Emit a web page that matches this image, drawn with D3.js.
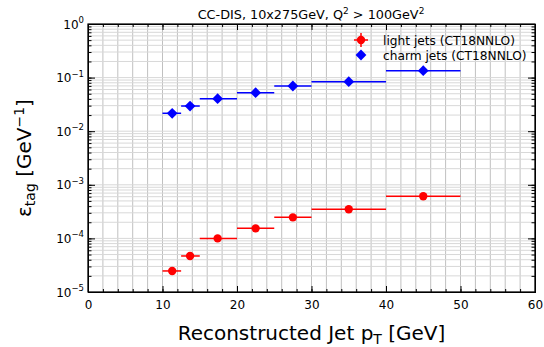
<!DOCTYPE html>
<html><head><meta charset="utf-8">
<script src="https://cdn.jsdelivr.net/npm/d3@7"></script>
<style>body{margin:0;background:#fff}svg{font-family:"DejaVu Sans",sans-serif}</style>
</head><body>
<svg id="c" width="544" height="347"></svg>
<script>
const binLo = [10, 12.5, 15, 20, 25, 30, 40];
const binHi = [12.5, 15, 20, 25, 30, 40, 50];
const xCenter = [11.3, 13.7, 17.4, 22.5, 27.5, 35.0, 45.0];
const lightEff = [2.47e-5, 4.7e-5, 1.0e-4, 1.54e-4, 2.47e-4, 3.5e-4, 6.1e-4];
const charmEff = [0.0216, 0.0295, 0.0404, 0.0524, 0.0697, 0.0839, 0.1346];
const xTicks = [0, 10, 20, 30, 40, 50, 60];
const yTicks = [1e-5, 1e-4, 1e-3, 1e-2, 1e-1, 1];
const seriesNames = ["light jets (CT18NNLO)", "charm jets (CT18NNLO)"];
const seriesColors = ["#ff0000", "#0000ff"];

const svg = d3.select("#c");
const L = 88, R = 535, T = 24, B = 292;
const x = d3.scaleLinear().domain([0, 60]).range([L, R]);
const y = d3.scaleLog().domain([1e-5, 1]).range([B, T]);

// grid
const g = svg.append("g");
const xMinor = d3.range(0, 61, 2);
g.selectAll("line.vx").data(xMinor).enter().append("line")
  .attr("x1", d => x(d)).attr("x2", d => x(d)).attr("y1", T).attr("y2", B)
  .attr("stroke", "#c0c0c0").attr("stroke-width", 1);
const yMinor = [];
for (let e = -5; e < 0; e++) for (let m = 1; m <= 9; m++) yMinor.push(m * Math.pow(10, e));
g.selectAll("line.hy").data(yMinor).enter().append("line")
  .attr("x1", L).attr("x2", R).attr("y1", d => y(d)).attr("y2", d => y(d))
  .attr("stroke", "#d8d8d8").attr("stroke-width", 1);

// axes
const xAxis = d3.axisBottom(x).tickValues(xTicks).tickSize(-6).tickPadding(8);
const xAxisMinor = d3.axisBottom(x).tickValues(xMinor).tickSize(-3).tickFormat("");
const gx = svg.append("g").attr("transform", `translate(0,${B})`).call(xAxis);
svg.append("g").attr("transform", `translate(0,${B})`).call(xAxisMinor);
svg.append("g").attr("transform", `translate(0,${T})`).call(d3.axisTop(x).tickValues(xTicks).tickSize(-6).tickFormat(""));
svg.append("g").attr("transform", `translate(0,${T})`).call(d3.axisTop(x).tickValues(xMinor).tickSize(-3).tickFormat(""));
gx.selectAll("text").attr("font-size", 12).attr("fill", "#000").attr("font-family", "DejaVu Sans");

const yAxis = d3.axisLeft(y).tickValues(yTicks).tickSize(-7).tickFormat(() => "");
svg.append("g").attr("transform", `translate(${L},0)`).call(yAxis);
svg.append("g").attr("transform", `translate(${L},0)`).call(d3.axisLeft(y).tickValues(yMinor).tickSize(-3.5).tickFormat(""));
svg.append("g").attr("transform", `translate(${R},0)`).call(d3.axisRight(y).tickValues(yTicks).tickSize(-7).tickFormat(""));
svg.append("g").attr("transform", `translate(${R},0)`).call(d3.axisRight(y).tickValues(yMinor).tickSize(-3.5).tickFormat(""));
svg.selectAll(".domain").attr("stroke", "#000");
svg.selectAll(".tick line").attr("stroke", "#000");

// y tick labels with superscript exponents
yTicks.forEach(v => {
  const e = Math.round(Math.log10(v));
  const t = svg.append("text").attr("x", L - 4).attr("y", y(v) + 4.5).attr("text-anchor", "end").attr("font-size", 12);
  t.append("tspan").text("10");
  t.append("tspan").attr("dy", -5.5).attr("font-size", 8.5).text(e === 0 ? "0" : "\u2212" + Math.abs(e));
});

// frame
svg.append("rect").attr("x", L).attr("y", T).attr("width", R - L).attr("height", B - T)
  .attr("fill", "none").attr("stroke", "#000").attr("stroke-width", 1.2);

// data
function drawSeries(vals, color, shape) {
  const gg = svg.append("g");
  vals.forEach((v, i) => {
    gg.append("line").attr("x1", x(binLo[i])).attr("x2", x(binHi[i]))
      .attr("y1", y(v)).attr("y2", y(v)).attr("stroke", color).attr("stroke-width", 1.5);
  });
  const sym = d3.symbol().type(shape === "d" ? d3.symbolSquare : d3.symbolCircle).size(shape === "d" ? 58 : 55);
  gg.selectAll("path").data(vals).enter().append("path")
    .attr("d", sym)
    .attr("transform", (d, i) => `translate(${x(xCenter[i])},${y(d)})` + (shape === "d" ? " rotate(45)" : ""))
    .attr("fill", color);
}
drawSeries(lightEff, seriesColors[0], "o");
drawSeries(charmEff, seriesColors[1], "d");

// legend
const lg = svg.append("g");
[0, 1].forEach(i => {
  const cy = 40 + i * 15, cx = 361;
  if (i === 0) {
    lg.append("line").attr("x1", cx - 7).attr("x2", cx + 7).attr("y1", cy).attr("y2", cy).attr("stroke", seriesColors[0]).attr("stroke-width", 1.5);
    lg.append("line").attr("x1", cx).attr("x2", cx).attr("y1", cy - 7).attr("y2", cy + 7).attr("stroke", seriesColors[0]).attr("stroke-width", 1.5);
    lg.append("path").attr("d", d3.symbol().type(d3.symbolCircle).size(55)).attr("transform", `translate(${cx},${cy})`).attr("fill", seriesColors[0]);
  } else {
    lg.append("path").attr("d", d3.symbol().type(d3.symbolSquare).size(58)).attr("transform", `translate(${cx},${cy}) rotate(45)`).attr("fill", seriesColors[1]);
  }
  lg.append("text").attr("x", 383).attr("y", cy + 4.5).attr("font-size", 12.2).text(seriesNames[i]);
});

// title
const tt = svg.append("text").attr("x", 311).attr("y", 19).attr("text-anchor", "middle").attr("font-size", 12.8);
tt.append("tspan").text("CC-DIS, 10x275GeV, Q");
tt.append("tspan").attr("dy", -5).attr("font-size", 9).text("2");
tt.append("tspan").attr("dy", 5).text(" > 100GeV");
tt.append("tspan").attr("dy", -5).attr("font-size", 9).text("2");

// x label
const xl = svg.append("text").attr("x", (L + R) / 2).attr("y", 340).attr("text-anchor", "middle").attr("font-size", 20);
xl.append("tspan").text("Reconstructed Jet p");
xl.append("tspan").attr("dy", 4).attr("font-size", 14).text("T");
xl.append("tspan").attr("dy", -4).text(" [GeV]");

// y label
const yl = svg.append("text").attr("transform", `translate(31,${(T + B) / 2}) rotate(-90)`).attr("text-anchor", "middle").attr("font-size", 20);
yl.append("tspan").text("\u03B5");
yl.append("tspan").attr("dy", 4).attr("font-size", 14).text("tag");
yl.append("tspan").attr("dy", -4).text(" [GeV");
yl.append("tspan").attr("dy", -7).attr("font-size", 14).text("\u22121");
yl.append("tspan").attr("dy", 7).text("]");
</script>
</body></html>
